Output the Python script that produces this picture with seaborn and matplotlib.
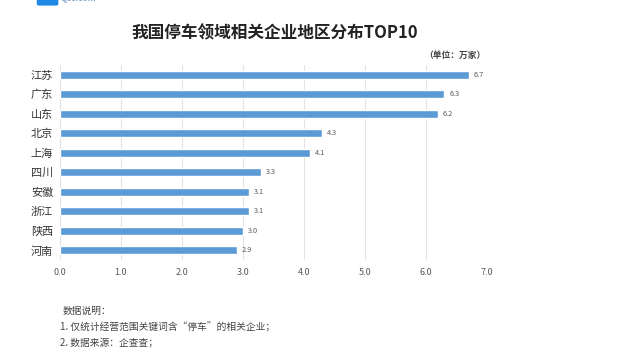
import matplotlib
matplotlib.use("Agg")
import matplotlib.pyplot as plt
import seaborn as sns
import pandas as pd
from matplotlib.patches import FancyBboxPatch

regions = ["江苏", "广东", "山东", "北京", "上海", "四川", "安徽", "浙江", "陕西", "河南"]
values = [6.7, 6.3, 6.2, 4.3, 4.1, 3.3, 3.1, 3.1, 3.0, 2.9]
xticks = [0, 1, 2, 3, 4, 5, 6, 7]

sns.set_theme(style="white")
plt.rcParams['font.family'] = ['Noto Sans CJK SC', 'DejaVu Sans']

df = pd.DataFrame({"region": regions, "value": values})

fig = plt.figure(figsize=(6.34, 3.49), dpi=100)
ax = fig.add_axes([0.0946, 0.255, 0.6735, 0.559])
sns.barplot(data=df, x="value", y="region", orient="h", color="#5B9BD5",
            saturation=1, width=0.42, ax=ax)
ax.set_xlim(0, 7)
ax.set_ylim(9.5, -0.5)
ax.set_xticks(xticks)
ax.set_xticklabels([f"{t:.1f}" for t in xticks], fontsize=6.5, color="#595959")
ax.tick_params(axis='x', length=0, pad=6)
ax.tick_params(axis='y', length=0, pad=5, labelsize=8, labelcolor="#333333")
ax.set_xlabel("")
ax.set_ylabel("")
for s in ax.spines.values():
    s.set_visible(False)
ax.grid(axis='x', color="#E3E3E3", linewidth=0.8)
ax.set_axisbelow(True)
for i, v in enumerate(values):
    ax.text(v + 0.08, i, f"{v:.1f}", va='center', ha='left', fontsize=5.3, color="#595959")

fig.text(0.434, 0.905, "我国停车领域相关企业地区分布TOP10", ha='center', va='center',
         fontsize=12, fontweight='bold', color="#222222")
fig.text(0.766, 0.842, "（单位：万家）", ha='right', va='center', fontsize=6.3,
         fontweight='bold', color="#444444")

fig.text(0.098, 0.108, "数据说明：", ha='left', va='center', fontsize=7, color="#444444")
fig.text(0.094, 0.063, "1. 仅统计经营范围关键词含“停车”的相关企业；", ha='left', va='center',
         fontsize=7, color="#444444")
fig.text(0.094, 0.019, "2. 数据来源：企查查；", ha='left', va='center', fontsize=7, color="#444444")

# logo fragment at top-left
logo = FancyBboxPatch((0.062, 0.988), 0.026, 0.04, boxstyle="round,pad=0.004",
                      transform=fig.transFigure, facecolor="#1E88E5", edgecolor="none")
fig.patches.append(logo)
fig.text(0.095, 1.004, "Qcc.com", ha='left', va='center', fontsize=6, color="#8AA9C8",
         fontweight='bold')

fig.savefig("out.png", dpi=100)
